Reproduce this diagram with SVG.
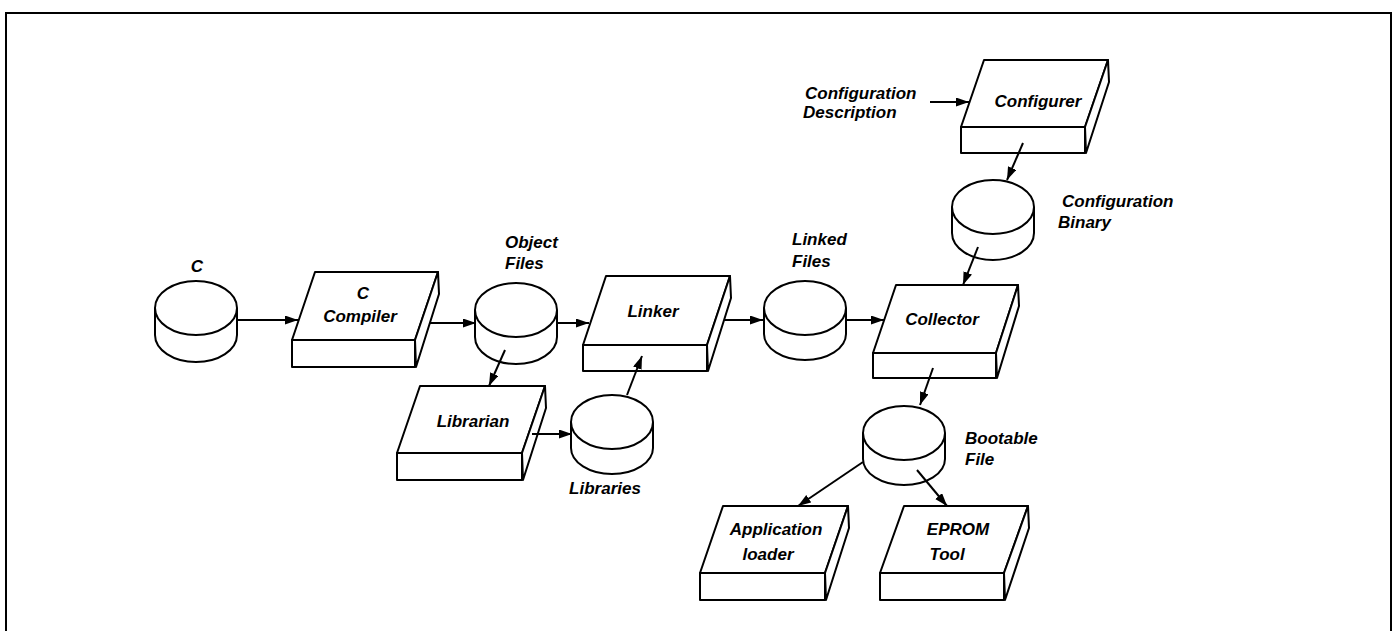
<svg xmlns="http://www.w3.org/2000/svg" width="1394" height="631" viewBox="0 0 1394 631">
<style>
  .s{fill:#fff;stroke:#000;stroke-width:2;stroke-linejoin:round}
  .ln{fill:none;stroke:#000;stroke-width:2}
  .t{font-family:"Liberation Sans",Arial,sans-serif;font-size:17px;font-style:italic;font-weight:bold;fill:#000}
  .m{text-anchor:middle}
</style>
<defs>
  <marker id="ah" markerUnits="userSpaceOnUse" markerWidth="14" markerHeight="10" refX="13" refY="4.5" orient="auto">
    <path d="M0,0 L13,4.5 L0,9 z" fill="#000"/>
  </marker>
</defs>
<rect width="1394" height="631" fill="#fff"/>
<path class="ln" d="M6,640 V13 H1391 V640" stroke-width="2.5"/>

<g id="c-source">
  <path class="s" d="M155,308 V335 A41,27 0 0 0 237,335 V308"/>
  <ellipse class="s" cx="196" cy="308" rx="41" ry="27"/>
  <text class="t m" x="197" y="272">C</text>
</g>

<g id="c-compiler">
  <polygon class="s" points="315,272 438,272 415,340 292,340"/>
  <rect class="s" x="292" y="340" width="123" height="27"/>
  <polygon class="s" points="438,272 439,294 416,367 415,340"/>
  <text class="t m" x="363" y="299">C</text>
  <text class="t m" x="360" y="322">Compiler</text>
</g>

<g id="object-files">
  <path class="s" d="M475,310 V337 A41,27 0 0 0 557,337 V310"/>
  <ellipse class="s" cx="516" cy="310" rx="41" ry="27"/>
  <text class="t" x="505" y="248">Object</text>
  <text class="t" x="505" y="269">Files</text>
</g>

<g id="linker">
  <polygon class="s" points="606,276 730,276 707,345 583,345"/>
  <rect class="s" x="583" y="345" width="124" height="26"/>
  <polygon class="s" points="730,276 731,298 708,371 707,345"/>
  <text class="t m" x="653" y="317">Linker</text>
</g>

<g id="librarian">
  <polygon class="s" points="420,386 545,386 522,453 397,453"/>
  <rect class="s" x="397" y="453" width="125" height="27"/>
  <polygon class="s" points="545,386 546,408 523,480 522,453"/>
  <text class="t m" x="473" y="427">Librarian</text>
</g>

<g id="libraries">
  <path class="s" d="M571,422 V448 A41,26 0 0 0 653,448 V422"/>
  <ellipse class="s" cx="612" cy="422" rx="41" ry="27"/>
  <text class="t m" x="605" y="494">Libraries</text>
</g>

<g id="linked-files">
  <path class="s" d="M764,308 V334 A41,26 0 0 0 846,334 V308"/>
  <ellipse class="s" cx="805" cy="308" rx="41" ry="27"/>
  <text class="t" x="792" y="245">Linked</text>
  <text class="t" x="792" y="267">Files</text>
</g>

<g id="collector">
  <polygon class="s" points="896,285 1018,285 996,353 873,353"/>
  <rect class="s" x="873" y="353" width="123" height="25"/>
  <polygon class="s" points="1018,285 1019,306 997,378 996,353"/>
  <text class="t m" x="942" y="325">Collector</text>
</g>

<g id="configuration-description">
  <text class="t" x="805" y="99">Configuration</text>
  <text class="t" x="803" y="118">Description</text>
</g>

<g id="configurer">
  <polygon class="s" points="984,60 1108,60 1085,127 961,127"/>
  <rect class="s" x="961" y="127" width="124" height="26"/>
  <polygon class="s" points="1108,60 1109,82 1086,153 1085,127"/>
  <text class="t m" x="1038" y="107">Configurer</text>
</g>

<g id="configuration-binary">
  <path class="s" d="M952,207 V233 A41,27 0 0 0 1034,233 V207"/>
  <ellipse class="s" cx="993" cy="207" rx="41" ry="27"/>
  <text class="t" x="1062" y="207">Configuration</text>
  <text class="t" x="1058" y="228">Binary</text>
</g>

<g id="bootable-file">
  <path class="s" d="M863,433 V459 A41,26 0 0 0 945,459 V433"/>
  <ellipse class="s" cx="904" cy="433" rx="41" ry="27"/>
  <text class="t" x="965" y="444">Bootable</text>
  <text class="t" x="965" y="465">File</text>
</g>

<g id="application-loader">
  <polygon class="s" points="723,506 848,506 825,573 700,573"/>
  <rect class="s" x="700" y="573" width="125" height="27"/>
  <polygon class="s" points="848,506 849,528 826,600 825,573"/>
  <text class="t m" x="776" y="535">Application</text>
  <text class="t m" x="768" y="560">loader</text>
</g>

<g id="eprom-tool">
  <polygon class="s" points="904,506 1028,506 1004,573 880,573"/>
  <rect class="s" x="880" y="573" width="124" height="27"/>
  <polygon class="s" points="1028,506 1029,528 1005,600 1004,573"/>
  <text class="t m" x="958" y="535">EPROM</text>
  <text class="t m" x="947" y="560">Tool</text>
</g>

<g id="connectors">
  <line class="ln" x1="237" y1="320" x2="298" y2="320" marker-end="url(#ah)"/>
  <line class="ln" x1="430" y1="323" x2="476" y2="323" marker-end="url(#ah)"/>
  <line class="ln" x1="557" y1="323" x2="589" y2="323" marker-end="url(#ah)"/>
  <line class="ln" x1="724" y1="320" x2="763" y2="320" marker-end="url(#ah)"/>
  <line class="ln" x1="847" y1="320" x2="884" y2="320" marker-end="url(#ah)"/>
  <line class="ln" x1="505" y1="350" x2="489" y2="386" marker-end="url(#ah)"/>
  <line class="ln" x1="532" y1="434" x2="572" y2="434" marker-end="url(#ah)"/>
  <line class="ln" x1="627" y1="395" x2="642" y2="356" marker-end="url(#ah)"/>
  <line class="ln" x1="930" y1="102" x2="969" y2="102" marker-end="url(#ah)"/>
  <line class="ln" x1="1023" y1="143" x2="1007" y2="180" marker-end="url(#ah)"/>
  <line class="ln" x1="978" y1="247" x2="963" y2="285" marker-end="url(#ah)"/>
  <line class="ln" x1="933" y1="368" x2="920" y2="405" marker-end="url(#ah)"/>
  <line class="ln" x1="863" y1="462" x2="798" y2="506" marker-end="url(#ah)"/>
  <line class="ln" x1="917" y1="470" x2="947" y2="506" marker-end="url(#ah)"/>
</g>
</svg>
